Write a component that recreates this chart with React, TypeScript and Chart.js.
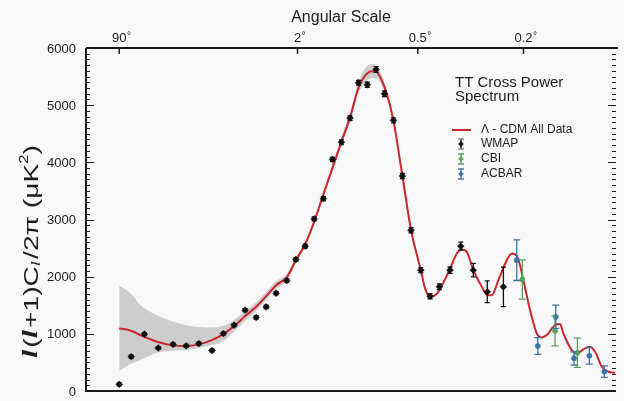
import React, { useEffect, useRef } from 'react';
import { Chart, registerables, LinearScale } from 'chart.js';

Chart.register(...registerables);

// Multipole axis drawn on an l^(1/4) scale (as in the original WMAP figure)
class QuarticScale extends LinearScale {
  static id = 'quartic';
  static defaults = {};
  q(v: number) { return Math.pow(Math.max(v, 1e-9), 0.25); }
  getPixelForValue(value: number) {
    const a = this.q(this.min), b = this.q(this.max);
    return this.getPixelForDecimal((this.q(value) - a) / (b - a));
  }
  getValueForPixel(pixel: number) {
    const a = this.q(this.min), b = this.q(this.max);
    return Math.pow(a + this.getDecimalForPixel(pixel) * (b - a), 4);
  }
}
Chart.register(QuarticScale as any);

// ---------------- DATA ----------------
const xMin = 0.49;
const xMax = 1740;
const yMin = 0;
const yMax = 6000;
const yTicks = [0, 1000, 2000, 3000, 4000, 5000, 6000];
const yMinorStep = 100;
const topTickL = [2, 90, 360, 900];
const topTickLabels = ['90°', '2°', '0.5°', '0.2°'];

// Lambda-CDM model curve
const modelL = [2, 2.97, 4.47, 6.54, 9.56, 13.0, 17.1, 22.25, 27.7, 33.6, 40.6, 48.7, 57.0, 66.3, 77.5, 88.0, 99.9, 112.5, 126.7, 141.8, 158.1, 175.2, 192.8, 208.0, 224.0, 236.5, 249.5, 263.1, 281.9, 309.1, 337.2, 370.8, 386.4, 405.2, 424.8, 442.1, 487.5, 517.6, 541.0, 565.2, 598.4, 642.7, 673.5, 698.5, 737.4, 789.1, 821.2, 858.2, 899.3, 946.9, 996.3, 1034.4, 1073.7, 1141.3, 1183.5, 1212, 1287, 1333, 1396, 1455, 1513, 1583, 1654, 1729];
const modelV = [1095, 1053, 948, 856, 798, 786, 816, 891, 996, 1135, 1310, 1473, 1659, 1851, 1990, 2288, 2568, 2960, 3440, 3900, 4360, 4791, 5300, 5515, 5595, 5577, 5432, 5200, 4734, 3761, 2812, 2114, 1794, 1647, 1677, 1764, 2143, 2405, 2475, 2433, 2114, 1822, 1677, 1677, 1939, 2288, 2405, 2346, 1939, 1415, 1008, 938, 978, 1153, 1170, 1008, 716, 659, 728, 774, 686, 424, 337, 320];

// cosmic variance band
const bandL = [2, 2.95, 4, 6.4, 9.7, 14.2, 20.2, 27.7, 33.6, 40.6, 48.7, 57.0, 66.3, 77.5, 88.0, 99.9, 112.5, 126.7, 141.8, 158.1, 175.2, 192.8, 208.0, 224.0, 236.5, 249.5, 263.1, 281.9, 309.1, 337.2, 370.8];
const bandHi = [1839, 1706, 1502, 1328, 1211, 1135, 1112, 1140, 1240, 1400, 1550, 1730, 1915, 2050, 2340, 2615, 3005, 3490, 3960, 4430, 4870, 5400, 5640, 5720, 5690, 5520, 5270, 4790, 3800, 2840, 2130];
const bandLo = [355, 472, 541, 669, 704, 728, 786, 870, 1040, 1230, 1400, 1590, 1790, 1930, 2240, 2520, 2915, 3390, 3840, 4290, 4710, 5200, 5400, 5470, 5470, 5350, 5130, 4680, 3720, 2785, 2100];

// WMAP
const wmapL = [2, 3, 4.5, 6.6, 9.6, 13, 17.1, 22.3, 27.7, 33.6, 40.6, 48.7, 57, 66.3, 77.5, 88, 99.9, 112.5, 126.7, 141.8, 158, 175, 193, 213, 234.7, 256.5, 282, 309, 337, 370.8, 405, 442, 487, 536, 598, 673, 768];
const wmapV = [117, 600, 996, 752, 815, 790, 830, 708, 1005, 1153, 1415, 1287, 1470, 1710, 1930, 2300, 2533, 3010, 3366, 4052, 4352, 4774, 5392, 5357, 5624, 5200, 4734, 3761, 2812, 2114, 1659, 1822, 2114, 2533, 2114, 1735, 1822];
const wmapErr = [25, 25, 25, 25, 25, 25, 25, 25, 25, 25, 25, 30, 30, 30, 30, 30, 35, 35, 35, 35, 40, 40, 40, 45, 50, 50, 45, 45, 45, 45, 45, 50, 55, 70, 117, 190, 346];

// CBI
const cbiL = [892, 1141, 1339];
const cbiV = [1951, 1053, 669];
const cbiErr = [344, 262, 256];

// ACBAR
const acbarL = [854, 1004, 1147, 1308, 1455, 1611];
const acbarV = [2288, 786, 1298, 571, 617, 338];
const acbarErr = [355, 146, 204, 116, 146, 100];

// ---------------- STYLE ----------------
const FONT = '"Liberation Sans", Arial, Helvetica, sans-serif';
const RED = '#c8282c';
const BLACK = '#111111';
const GREEN = '#5c9e5c';
const BLUE = '#3b74aa';
const BAND = '#cdcdcd';
const TEXT = '#1c1c1c';

const pts = (l: number[], v: number[]) => l.map((x, i) => ({ x, y: v[i] }));

const errGroups = [
  { l: wmapL, v: wmapV, e: wmapErr, color: BLACK, cap: 2.5 },
  { l: cbiL, v: cbiV, e: cbiErr, color: GREEN, cap: 3.5 },
  { l: acbarL, v: acbarV, e: acbarErr, color: BLUE, cap: 3.5 },
];

const bgPlugin = {
  id: 'bg',
  beforeDraw(chart: any) {
    const { ctx, width, height } = chart;
    ctx.save();
    ctx.fillStyle = '#f8f8f8';
    ctx.fillRect(0, 0, width, height);
    ctx.restore();
  },
};

const errPlugin = {
  id: 'errbars',
  afterDatasetsDraw(chart: any) {
    const { ctx } = chart;
    const xs = chart.scales.x, ys = chart.scales.y;
    ctx.save();
    ctx.lineWidth = 1.3;
    errGroups.forEach((g) => {
      ctx.strokeStyle = g.color;
      g.l.forEach((l, i) => {
        const px = xs.getPixelForValue(l);
        const y1 = ys.getPixelForValue(g.v[i] - g.e[i]);
        const y2 = ys.getPixelForValue(g.v[i] + g.e[i]);
        ctx.beginPath();
        ctx.moveTo(px, y1); ctx.lineTo(px, y2);
        ctx.moveTo(px - g.cap, y1); ctx.lineTo(px + g.cap, y1);
        ctx.moveTo(px - g.cap, y2); ctx.lineTo(px + g.cap, y2);
        ctx.stroke();
      });
    });
    ctx.restore();
  },
};

function drawErrSymbol(ctx: CanvasRenderingContext2D, x: number, y: number, color: string, capColor: string) {
  ctx.save();
  ctx.strokeStyle = color;
  ctx.lineWidth = 1.4;
  ctx.beginPath();
  ctx.moveTo(x, y - 5); ctx.lineTo(x, y + 5);
  ctx.stroke();
  ctx.strokeStyle = capColor;
  ctx.beginPath();
  ctx.moveTo(x - 3, y - 5); ctx.lineTo(x + 3, y - 5);
  ctx.moveTo(x - 3, y + 5); ctx.lineTo(x + 3, y + 5);
  ctx.stroke();
  ctx.fillStyle = color;
  ctx.beginPath();
  ctx.moveTo(x, y - 2.8); ctx.lineTo(x + 2.8, y); ctx.lineTo(x, y + 2.8); ctx.lineTo(x - 2.8, y);
  ctx.closePath();
  ctx.fill();
  ctx.restore();
}

const framePlugin = {
  id: 'frame',
  afterDraw(chart: any) {
    const { ctx, chartArea } = chart;
    const { left, right, top, bottom } = chartArea;
    const xs = chart.scales.x, ys = chart.scales.y;
    ctx.save();
    // axis lines
    ctx.strokeStyle = '#1a1a1a';
    ctx.lineWidth = 2;
    ctx.beginPath();
    ctx.moveTo(left, top); ctx.lineTo(right + 2, top);
    ctx.moveTo(left, top); ctx.lineTo(left, bottom);
    ctx.lineTo(right, bottom);
    ctx.stroke();
    // y ticks (left and right, inward)
    ctx.lineWidth = 1.2;
    ctx.beginPath();
    for (let v = yMin; v <= yMax; v += yMinorStep) {
      const py = Math.round(ys.getPixelForValue(v)) + 0.5;
      const major = yTicks.includes(v);
      const len = major ? 8 : 4;
      ctx.moveTo(left, py); ctx.lineTo(left + len, py);
      ctx.moveTo(right, py); ctx.lineTo(right - len, py);
    }
    ctx.stroke();
    // top ticks
    ctx.lineWidth = 1.5;
    ctx.beginPath();
    topTickL.forEach((l) => {
      const px = xs.getPixelForValue(l);
      ctx.moveTo(px, top); ctx.lineTo(px, top + 6);
    });
    ctx.stroke();

    // y labels
    ctx.fillStyle = TEXT;
    ctx.font = `13px ${FONT}`;
    ctx.textAlign = 'right';
    ctx.textBaseline = 'middle';
    yTicks.forEach((v) => {
      ctx.fillText(String(v), left - 10, ys.getPixelForValue(v) + 1);
    });
    // top labels
    ctx.textBaseline = 'alphabetic';
    ctx.textAlign = 'left';
    topTickL.forEach((l, i) => {
      const px = xs.getPixelForValue(l);
      const lab = topTickLabels[i];
      const num = lab.replace('°', '');
      ctx.font = `13px ${FONT}`;
      const w = ctx.measureText(num).width;
      ctx.fillText(num, px - w / 2, 42);
      ctx.font = `10px ${FONT}`;
      ctx.fillText('°', px + w / 2 + 0.5, 39);
    });
    // axis title top
    ctx.font = `16px ${FONT}`;
    ctx.textAlign = 'center';
    ctx.fillText('Angular Scale', 341, 22);

    // y-axis title (rotated)
    ctx.save();
    ctx.translate(31, 251.5);
    ctx.rotate(-Math.PI / 2);
    const segs = [
      { t: 'l', f: `bold italic 21px "Liberation Serif", serif`, dy: 0 },
      { t: '(', f: `20px ${FONT}`, dy: 0 },
      { t: 'l', f: `bold italic 21px "Liberation Serif", serif`, dy: 0 },
      { t: '+1)C', f: `20px ${FONT}`, dy: 0 },
      { t: 'l', f: `italic 13px "Liberation Serif", serif`, dy: 5 },
      { t: '/2π (μK', f: `20px ${FONT}`, dy: 0 },
      { t: '2', f: `12px ${FONT}`, dy: -7 },
      { t: ')', f: `20px ${FONT}`, dy: 0 },
    ];
    let total = 0;
    const widths = segs.map((s) => { ctx.font = s.f; const w = ctx.measureText(s.t).width + (s.t === 'l' ? 1.5 : 0); total += w; return w; });
    const target = 213;
    const sc = target / total;
    ctx.scale(sc, 1);
    let cx = -total / 2;
    ctx.textAlign = 'left';
    ctx.textBaseline = 'middle';
    segs.forEach((s, i) => {
      ctx.font = s.f;
      ctx.fillText(s.t, cx, s.dy + 1);
      cx += widths[i];
    });
    ctx.restore();

    // legend
    ctx.fillStyle = TEXT;
    ctx.font = `15px ${FONT}`;
    ctx.textAlign = 'left';
    ctx.textBaseline = 'alphabetic';
    ctx.fillText('TT Cross Power', 455, 87);
    ctx.fillText('Spectrum', 455, 100.5);

    ctx.strokeStyle = RED;
    ctx.lineWidth = 2;
    ctx.beginPath();
    ctx.moveTo(452, 130); ctx.lineTo(471, 130);
    ctx.stroke();

    drawErrSymbol(ctx, 461, 144, BLACK, '#888888');
    drawErrSymbol(ctx, 461, 159, GREEN, GREEN);
    drawErrSymbol(ctx, 461, 174, BLUE, BLUE);

    ctx.fillStyle = TEXT;
    ctx.font = `12px ${FONT}`;
    ctx.textBaseline = 'middle';
    ctx.fillText('Λ - CDM All Data', 481, 130);
    ctx.fillText('WMAP', 481, 144);
    ctx.fillText('CBI', 481, 159);
    ctx.fillText('ACBAR', 481, 174);
    ctx.restore();
  },
};

export default function App() {
  const ref = useRef<HTMLCanvasElement>(null);
  useEffect(() => {
    document.body.style.margin = '0';
    const chart = new Chart(ref.current as HTMLCanvasElement, {
      type: 'line',
      data: {
        datasets: [
          {
            type: 'line',
            data: pts(bandL, bandHi),
            borderWidth: 0,
            borderColor: 'rgba(0,0,0,0)',
            backgroundColor: BAND,
            pointRadius: 0,
            fill: '+1',
            cubicInterpolationMode: 'monotone',
            order: 10,
          },
          {
            type: 'line',
            data: pts(bandL, bandLo),
            borderWidth: 0,
            borderColor: 'rgba(0,0,0,0)',
            pointRadius: 0,
            fill: false,
            cubicInterpolationMode: 'monotone',
            order: 9,
          },
          {
            type: 'line',
            data: pts(modelL, modelV),
            borderColor: RED,
            borderWidth: 2,
            pointRadius: 0,
            fill: false,
            cubicInterpolationMode: 'monotone',
            order: 5,
          },
          {
            type: 'scatter',
            data: pts(wmapL, wmapV),
            pointStyle: 'rectRot',
            pointRadius: 3.4,
            backgroundColor: BLACK,
            borderColor: BLACK,
            borderWidth: 0.5,
            order: 1,
          },
          {
            type: 'scatter',
            data: pts(cbiL, cbiV),
            pointStyle: 'circle',
            pointRadius: 2.6,
            backgroundColor: GREEN,
            borderColor: GREEN,
            borderWidth: 0.5,
            order: 1,
          },
          {
            type: 'scatter',
            data: pts(acbarL, acbarV),
            pointStyle: 'circle',
            pointRadius: 2.6,
            backgroundColor: BLUE,
            borderColor: BLUE,
            borderWidth: 0.5,
            order: 1,
          },
        ],
      } as any,
      options: {
        responsive: false,
        animation: false,
        devicePixelRatio: 1,
        events: [],
        layout: { padding: { left: 86, right: 8, top: 48, bottom: 10 } },
        plugins: { legend: { display: false }, tooltip: { enabled: false } },
        scales: {
          x: { type: 'quartic', min: xMin, max: xMax, display: false } as any,
          y: { type: 'linear', min: yMin, max: yMax, display: false },
        },
      } as any,
      plugins: [bgPlugin, errPlugin, framePlugin],
    });
    return () => chart.destroy();
  }, []);
  return <canvas ref={ref} width={624} height={401} style={{ display: 'block', width: 624, height: 401 }} />;
}
